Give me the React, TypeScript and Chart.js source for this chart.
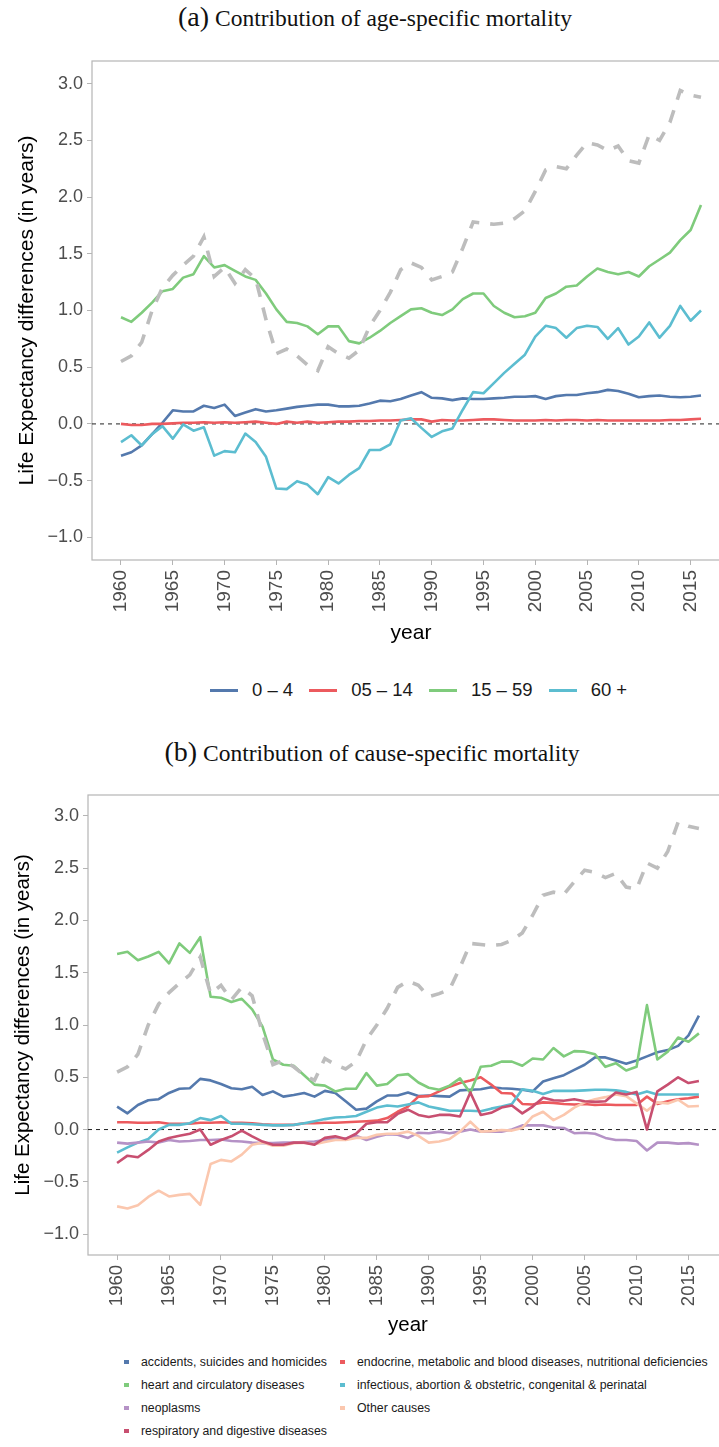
import React, { useEffect, useRef } from 'react';
import { Chart, registerables } from 'chart.js';

Chart.register(...registerables);

// ---------------- data ----------------
const years = [
  1960, 1961, 1962, 1963, 1964, 1965, 1966, 1967, 1968, 1969,
  1970, 1971, 1972, 1973, 1974, 1975, 1976, 1977, 1978, 1979,
  1980, 1981, 1982, 1983, 1984, 1985, 1986, 1987, 1988, 1989,
  1990, 1991, 1992, 1993, 1994, 1995, 1996, 1997, 1998, 1999,
  2000, 2001, 2002, 2003, 2004, 2005, 2006, 2007, 2008, 2009,
  2010, 2011, 2012, 2013, 2014, 2015, 2016,
];

const xTickYears = [1960, 1965, 1970, 1975, 1980, 1985, 1990, 1995, 2000, 2005, 2010, 2015];
const yTickValues = [-1, -0.5, 0, 0.5, 1, 1.5, 2, 2.5, 3];

// total life expectancy difference (grey dashed, both panels)
const total = [
  0.55, 0.60, 0.72, 1.00, 1.20, 1.31, 1.40, 1.48, 1.65, 1.30,
  1.38, 1.24, 1.36, 1.28, 0.92, 0.62, 0.66, 0.60, 0.52, 0.47,
  0.68, 0.62, 0.58, 0.65, 0.86, 1.00, 1.16, 1.36, 1.42, 1.38,
  1.27, 1.30, 1.34, 1.55, 1.78, 1.77, 1.76, 1.77, 1.81, 1.88,
  2.05, 2.24, 2.27, 2.25, 2.37, 2.48, 2.46, 2.41, 2.45, 2.32,
  2.30, 2.55, 2.50, 2.66, 2.94, 2.90, 2.88,
];

// panel (a): age groups
const age0to4 = [
  -0.28, -0.25, -0.19, -0.09, 0.01, 0.12, 0.11, 0.11, 0.16, 0.14,
  0.17, 0.07, 0.10, 0.13, 0.11, 0.12, 0.135, 0.15, 0.16, 0.17,
  0.17, 0.155, 0.155, 0.16, 0.18, 0.205, 0.20, 0.22, 0.25, 0.28,
  0.23, 0.225, 0.21, 0.225, 0.22, 0.22, 0.225, 0.23, 0.24, 0.24,
  0.245, 0.22, 0.245, 0.255, 0.255, 0.27, 0.28, 0.30, 0.29, 0.265,
  0.235, 0.245, 0.25, 0.24, 0.235, 0.24, 0.25,
];
const age5to14 = [
  0.0, -0.01, -0.01, 0.0, 0.0, 0.005, 0.01, 0.01, 0.015, 0.01,
  0.015, 0.01, 0.015, 0.02, 0.01, 0.0, 0.02, 0.01, 0.02, 0.01,
  0.015, 0.02, 0.02, 0.025, 0.025, 0.03, 0.03, 0.035, 0.04, 0.04,
  0.02, 0.035, 0.03, 0.03, 0.035, 0.04, 0.04, 0.035, 0.03, 0.03,
  0.03, 0.035, 0.03, 0.035, 0.035, 0.03, 0.035, 0.03, 0.03, 0.03,
  0.03, 0.03, 0.03, 0.035, 0.035, 0.04, 0.045,
];
const age15to59 = [
  0.94, 0.90, 0.98, 1.07, 1.17, 1.19, 1.29, 1.32, 1.48, 1.38,
  1.40, 1.35, 1.30, 1.27, 1.15, 1.01, 0.90, 0.89, 0.86, 0.79,
  0.86, 0.86, 0.73, 0.71, 0.76, 0.82, 0.89, 0.95, 1.01, 1.02,
  0.98, 0.96, 1.01, 1.10, 1.15, 1.15, 1.04, 0.98, 0.94, 0.95,
  0.98, 1.11, 1.15, 1.21, 1.22, 1.30, 1.37, 1.34, 1.32, 1.34,
  1.30, 1.39, 1.45, 1.51, 1.62, 1.71, 1.93,
];
const age60plus = [
  -0.16, -0.10, -0.19, -0.09, -0.02, -0.13, -0.005, -0.06, -0.03, -0.28,
  -0.24, -0.25, -0.085, -0.16, -0.29, -0.57, -0.575, -0.505, -0.535, -0.62,
  -0.47, -0.525, -0.45, -0.39, -0.23, -0.23, -0.18, 0.03, 0.05, -0.035,
  -0.115, -0.065, -0.04, 0.125, 0.28, 0.27, 0.36, 0.45, 0.53, 0.61,
  0.77, 0.865, 0.845, 0.76, 0.845, 0.865, 0.855, 0.75, 0.845, 0.70,
  0.77, 0.895, 0.76, 0.865, 1.04, 0.91, 1.0,
];

// panel (b): causes
const accidents = [
  0.22, 0.155, 0.235, 0.28, 0.29, 0.35, 0.39, 0.395, 0.485, 0.47,
  0.435, 0.395, 0.385, 0.41, 0.33, 0.365, 0.315, 0.33, 0.35, 0.315,
  0.37, 0.35, 0.27, 0.19, 0.20, 0.27, 0.325, 0.325, 0.355, 0.32,
  0.325, 0.32, 0.315, 0.375, 0.38, 0.385, 0.405, 0.395, 0.39, 0.38,
  0.365, 0.46, 0.49, 0.52, 0.57, 0.62, 0.69, 0.69, 0.66, 0.63,
  0.66, 0.70, 0.74, 0.76, 0.80, 0.90, 1.09,
];
const endocrine = [
  0.07, 0.07, 0.065, 0.065, 0.07, 0.055, 0.055, 0.055, 0.065, 0.065,
  0.07, 0.065, 0.065, 0.06, 0.05, 0.045, 0.045, 0.045, 0.06, 0.06,
  0.065, 0.065, 0.07, 0.075, 0.08, 0.085, 0.11, 0.17, 0.22, 0.315,
  0.32, 0.365, 0.41, 0.445, 0.47, 0.50, 0.43, 0.35, 0.345, 0.245,
  0.24, 0.26, 0.255, 0.245, 0.24, 0.245, 0.235, 0.24, 0.235, 0.235,
  0.235, 0.315, 0.245, 0.27, 0.29, 0.30, 0.315,
];
const heart = [
  1.68, 1.70, 1.62, 1.655, 1.70, 1.59, 1.78, 1.69, 1.84, 1.27,
  1.26, 1.22, 1.25, 1.15, 0.985, 0.67, 0.62, 0.61, 0.52, 0.43,
  0.42, 0.365, 0.39, 0.39, 0.54, 0.42, 0.435, 0.52, 0.53, 0.45,
  0.40, 0.38, 0.42, 0.49, 0.35, 0.60, 0.61, 0.65, 0.65, 0.61,
  0.68, 0.67, 0.78, 0.70, 0.75, 0.745, 0.72, 0.60, 0.635, 0.565,
  0.60, 1.19, 0.67, 0.745, 0.88, 0.84, 0.92,
];
const infectious = [
  -0.22, -0.17, -0.125, -0.09, 0.0, 0.045, 0.045, 0.06, 0.11, 0.09,
  0.13, 0.055, 0.055, 0.05, 0.045, 0.04, 0.04, 0.045, 0.06, 0.08,
  0.10, 0.115, 0.12, 0.13, 0.17, 0.21, 0.23, 0.22, 0.24, 0.26,
  0.22, 0.20, 0.18, 0.18, 0.18, 0.175, 0.20, 0.22, 0.245, 0.385,
  0.37, 0.34, 0.37, 0.37, 0.37, 0.375, 0.38, 0.38, 0.375, 0.36,
  0.335, 0.365, 0.335, 0.335, 0.335, 0.335, 0.335,
];
const neoplasms = [
  -0.125, -0.135, -0.125, -0.115, -0.125, -0.10, -0.115, -0.11, -0.10, -0.10,
  -0.095, -0.11, -0.115, -0.125, -0.13, -0.13, -0.125, -0.125, -0.12, -0.115,
  -0.10, -0.085, -0.085, -0.06, -0.10, -0.07, -0.045, -0.05, -0.08, -0.03,
  -0.035, -0.02, -0.035, -0.02, 0.0, -0.02, -0.02, -0.02, 0.0, 0.04,
  0.04, 0.04, 0.02, 0.015, -0.035, -0.03, -0.04, -0.08, -0.10, -0.10,
  -0.11, -0.20, -0.125, -0.125, -0.135, -0.13, -0.145,
];
const otherCauses = [
  -0.735, -0.755, -0.725, -0.645, -0.585, -0.64, -0.625, -0.615, -0.72, -0.33,
  -0.29, -0.305, -0.24, -0.145, -0.125, -0.155, -0.155, -0.13, -0.125, -0.14,
  -0.12, -0.10, -0.10, -0.08, -0.08, -0.05, -0.04, -0.04, -0.02, -0.06,
  -0.125, -0.115, -0.09, -0.02, 0.075, -0.02, -0.015, -0.005, -0.01, 0.015,
  0.125, 0.17, 0.09, 0.14, 0.21, 0.26, 0.29, 0.31, 0.335, 0.32,
  0.25, 0.18, 0.26, 0.25, 0.285, 0.22, 0.225,
];
const respiratory = [
  -0.32, -0.25, -0.265, -0.195, -0.115, -0.08, -0.06, -0.04, 0.0, -0.145,
  -0.10, -0.065, -0.01, -0.065, -0.115, -0.145, -0.145, -0.125, -0.125, -0.145,
  -0.08, -0.065, -0.09, -0.04, 0.055, 0.07, 0.07, 0.15, 0.19, 0.14,
  0.12, 0.14, 0.14, 0.125, 0.355, 0.14, 0.16, 0.21, 0.23, 0.155,
  0.22, 0.305, 0.28, 0.275, 0.29, 0.27, 0.265, 0.27, 0.355, 0.335,
  0.36, 0.0, 0.365, 0.43, 0.50, 0.445, 0.465,
];

const ageLabels = ['0 – 4', '05 – 14', '15 – 59', '60 +'];
const causeLabels = [
  'accidents, suicides and homicides',
  'endocrine, metabolic and blood diseases, nutritional deficiencies',
  'heart and circulatory diseases',
  'infectious, abortion & obstetric, congenital & perinatal',
  'neoplasms',
  'Other causes',
  'respiratory and digestive diseases',
];

// ---------------- styles ----------------
const C_BLUE = '#5479ad';
const C_RED = '#ec5a5e';
const C_GREEN = '#7fcb7c';
const C_CYAN = '#5cbdd0';
const C_GREY = '#bdbdbd';
const C_PURPLE = '#b592c6';
const C_PEACH = '#fbc7ae';
const C_CRIMSON = '#c84f70';

const SANS = '"Liberation Sans", Arial, Helvetica, sans-serif';
const SERIF = '"Liberation Serif", "Times New Roman", serif';
const X_MIN = 1957.2;
const X_MAX = 2018.8;
const Y_MIN = -1.2;
const Y_MAX = 3.2;

const toPoints = (arr: number[]) => years.map((yr, i) => ({ x: yr, y: arr[i] }));

const line = (label: string, arr: number[], color: string) => ({
  label,
  data: toPoints(arr),
  borderColor: color,
  backgroundColor: color,
  borderWidth: 2.6,
  pointRadius: 0,
  tension: 0,
  fill: false,
  borderJoinStyle: 'round' as const,
});

const totalLine = () => ({
  label: 'total',
  data: toPoints(total),
  borderColor: C_GREY,
  backgroundColor: C_GREY,
  borderWidth: 3.6,
  borderDash: [13, 11],
  pointRadius: 0,
  tension: 0,
  fill: false,
});

const framePlugin = {
  id: 'frameAndZero',
  beforeDatasetsDraw(chart: any) {
    const { ctx, chartArea, scales } = chart;
    const { left, top, right, bottom } = chartArea;
    ctx.save();
    ctx.strokeStyle = '#b5b5b5';
    ctx.lineWidth = 1.2;
    ctx.strokeRect(left, top, right - left, bottom - top);
    const y0 = scales.y.getPixelForValue(0);
    ctx.setLineDash([4, 4]);
    ctx.strokeStyle = '#222';
    ctx.lineWidth = 1;
    ctx.beginPath();
    ctx.moveTo(left, y0);
    ctx.lineTo(right, y0);
    ctx.stroke();
    ctx.restore();
  },
};

type Layout = {
  padTop: number;
  padRight: number;
  yWidth: number;
  xHeight: number;
  yTitlePad: number;
  xTickSize: number;
  yTickSize: number;
  titleSize: number;
  xTitlePad: number;
};

const buildOptions = (p: Layout): any => ({
  responsive: false,
  animation: false,
  events: [],
  layout: { padding: { top: p.padTop, right: p.padRight, left: 0, bottom: 0 } },
  plugins: { legend: { display: false }, tooltip: { enabled: false }, title: { display: false } },
  scales: {
    x: {
      type: 'linear',
      min: X_MIN,
      max: X_MAX,
      afterBuildTicks: (axis: any) => {
        axis.ticks = xTickYears.map((v) => ({ value: v }));
      },
      afterFit: (s: any) => {
        s.height = p.xHeight;
      },
      ticks: {
        autoSkip: false,
        minRotation: 90,
        maxRotation: 90,
        padding: 5,
        color: '#4d4d4d',
        font: { family: SANS, size: p.xTickSize },
        callback: (v: any) => String(v),
      },
      grid: { display: true, drawOnChartArea: false, drawTicks: true, tickLength: 5, color: '#b5b5b5' },
      border: { display: false },
      title: {
        display: true,
        text: 'year',
        color: '#000',
        font: { family: SANS, size: p.titleSize },
        padding: { top: 0, bottom: p.xTitlePad },
      },
    },
    y: {
      type: 'linear',
      min: Y_MIN,
      max: Y_MAX,
      afterBuildTicks: (axis: any) => {
        axis.ticks = yTickValues.map((v) => ({ value: v }));
      },
      afterFit: (s: any) => {
        s.width = p.yWidth;
      },
      ticks: {
        padding: 4,
        color: '#4d4d4d',
        font: { family: SANS, size: p.yTickSize },
        callback: (v: any) => (v < 0 ? '−' + Math.abs(v).toFixed(1) : Number(v).toFixed(1)),
      },
      grid: { display: true, drawOnChartArea: false, drawTicks: true, tickLength: 5, color: '#b5b5b5' },
      border: { display: false },
      title: {
        display: true,
        text: 'Life Expectancy differences (in years)',
        color: '#000',
        font: { family: SANS, size: p.titleSize },
        padding: { top: p.yTitlePad, bottom: 0 },
      },
    },
  },
});

function LineChart({ datasets, layout, width, height, top }: any) {
  const ref = useRef<HTMLCanvasElement | null>(null);
  useEffect(() => {
    if (!ref.current) return;
    const chart = new Chart(ref.current, {
      type: 'line',
      data: { datasets },
      options: buildOptions(layout),
      plugins: [framePlugin],
    } as any);
    return () => chart.destroy();
  }, []);
  return (
    <canvas
      ref={ref}
      width={width}
      height={height}
      style={{ position: 'absolute', left: 0, top, width, height }}
    />
  );
}

const PanelTitle = ({ tag, text, top, center }: any) => (
  <div
    style={{
      position: 'absolute',
      top,
      left: center - 400,
      width: 800,
      textAlign: 'center',
      fontFamily: SERIF,
      color: '#111',
      whiteSpace: 'nowrap',
      lineHeight: '32px',
    }}
  >
    <span style={{ fontSize: 28 }}>{tag}</span>
    <span style={{ fontSize: 23.5 }}> {text}</span>
  </div>
);

export default function App() {
  const ageDatasets = [
    totalLine(),
    line(ageLabels[3], age60plus, C_CYAN),
    line(ageLabels[2], age15to59, C_GREEN),
    line(ageLabels[1], age5to14, C_RED),
    line(ageLabels[0], age0to4, C_BLUE),
  ];
  const causeDatasets = [
    totalLine(),
    line(causeLabels[6], respiratory, C_CRIMSON),
    line(causeLabels[5], otherCauses, C_PEACH),
    line(causeLabels[4], neoplasms, C_PURPLE),
    line(causeLabels[3], infectious, C_CYAN),
    line(causeLabels[2], heart, C_GREEN),
    line(causeLabels[1], endocrine, C_RED),
    line(causeLabels[0], accidents, C_BLUE),
  ];
  const ageColors = [C_BLUE, C_RED, C_GREEN, C_CYAN];
  const causeColors = [C_BLUE, C_RED, C_GREEN, C_CYAN, C_PURPLE, C_PEACH, C_CRIMSON];

  return (
    <div
      style={{
        position: 'absolute',
        left: 0,
        top: 0,
        width: 719,
        height: 1447,
        overflow: 'hidden',
        background: '#fff',
      }}
    >
      <PanelTitle tag="(a)" text="Contribution of age-specific mortality" top={1} center={375} />
      <LineChart
        datasets={ageDatasets}
        layout={{
          padTop: 61,
          padRight: 30,
          yWidth: 92,
          xHeight: 90,
          yTitlePad: 15,
          xTickSize: 19,
          yTickSize: 18,
          titleSize: 21,
          xTitlePad: 4,
        }}
        width={760}
        height={650}
        top={0}
      />
      <div
        style={{
          position: 'absolute',
          top: 678,
          left: 210,
          display: 'flex',
          alignItems: 'center',
          fontFamily: SANS,
          fontSize: 18.5,
          color: '#1a1a1a',
          height: 24,
          whiteSpace: 'nowrap',
        }}
      >
        {ageLabels.map((lab, i) => (
          <div key={lab} style={{ display: 'flex', alignItems: 'center', marginRight: 16 }}>
            <div style={{ width: 28, height: 3, background: ageColors[i], marginRight: 14, flexShrink: 0 }} />
            <span>{lab}</span>
          </div>
        ))}
      </div>

      <PanelTitle tag="(b)" text="Contribution of cause-specific mortality" top={736} center={372} />
      <LineChart
        datasets={causeDatasets}
        layout={{
          padTop: 95,
          padRight: 32,
          yWidth: 88,
          xHeight: 85,
          yTitlePad: 11,
          xTickSize: 18.5,
          yTickSize: 18,
          titleSize: 20.5,
          xTitlePad: 2,
        }}
        width={760}
        height={640}
        top={700}
      />
      <div
        style={{
          position: 'absolute',
          top: 1353,
          left: 124,
          display: 'grid',
          gridTemplateColumns: '216px auto',
          rowGap: 5,
          fontFamily: SANS,
          fontSize: 12.3,
          color: '#1a1a1a',
          whiteSpace: 'nowrap',
        }}
      >
        {causeLabels.map((lab, i) => (
          <div key={lab} style={{ display: 'flex', alignItems: 'center', height: 18 }}>
            <div style={{ width: 5, height: 4, background: causeColors[i], marginRight: 12, flexShrink: 0 }} />
            <span>{lab}</span>
          </div>
        ))}
      </div>
    </div>
  );
}
